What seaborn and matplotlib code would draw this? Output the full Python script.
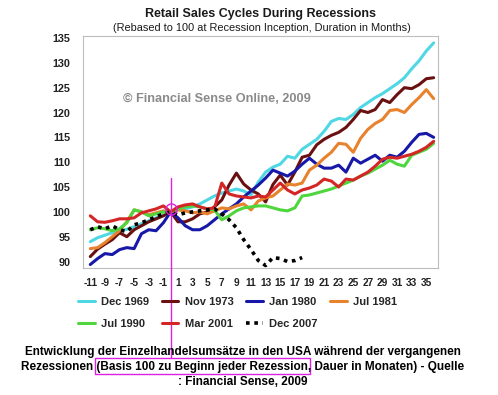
import numpy as np
import pandas as pd
import matplotlib
matplotlib.use('Agg')
import matplotlib.pyplot as plt
import seaborn as sns
from matplotlib.patches import Rectangle

## Data (months from recession start, index = 100 at month 0)
months = list(range(-11, 37))
months_2007 = list(range(-11, 19))

dec1969 = [94, 94.8, 95.3, 95.8, 96.2, 96.5, 97, 97.6, 98.2, 98.8, 99.3, 100,
           100.5, 100.6, 101, 101.6, 102.4, 103.2, 103.8, 104.2, 104.6, 104.2, 103.4, 106,
           108, 109, 109.6, 111.2, 110.8, 112.6, 113.6, 114.6, 116.2, 118.2, 118.8, 118.6,
           119.6, 121, 122, 123, 123.8, 124.8, 125.8, 127, 128.8, 130.4, 132.4, 134]
nov1973 = [91, 92.5, 93.5, 94.4, 95.8, 95, 96.4, 97.2, 98, 98.6, 99.2, 100,
           98, 98, 98.6, 99.6, 100, 101, 102.4, 105.4, 107.8, 105.6, 104.4, 103.6,
           102, 105.5, 107.4, 105.4, 108, 111, 111.4, 113.5, 114.6, 115.4, 116, 117,
           118.6, 120.4, 120, 120.6, 122.6, 122, 123.6, 125, 124.8, 125.6, 126.8, 127]
jan1980 = [89.4, 90.6, 91.6, 91.4, 92.4, 92.8, 92.6, 95.6, 96.4, 96.2, 97.8, 100,
           98.8, 97.2, 96.4, 96.4, 97.2, 98.4, 99.6, 100.6, 101.6, 103, 104.2, 105.4,
           106.8, 108.4, 107.8, 107.2, 108.2, 109.6, 110.8, 109.6, 108.8, 108.8, 109.4, 108,
           110.8, 109.8, 110.6, 111.4, 110.2, 111.4, 111, 112.2, 114, 115.6, 115.8, 115]
jul1981 = [92.6, 92.8, 93.8, 95, 96.2, 98, 100.4, 100, 99.4, 99.8, 100.2, 100,
           100.4, 100.2, 99.8, 100, 99.6, 100.2, 100.8, 100.6, 101.2, 101.6, 100.4, 102.2,
           102.8, 103.2, 104.4, 105.6, 105.4, 105.8, 108.4, 109.4, 110.8, 112, 113.8, 113.6,
           112, 114.8, 116.6, 117.8, 118.6, 120.4, 120.6, 120, 121.6, 123, 124.6, 122.8]
jul1990 = [96.4, 96.8, 96.6, 96.2, 96.6, 97.8, 100.4, 100, 99.2, 99.6, 100, 100,
           100.6, 101, 101.2, 101, 100.6, 100.4, 98.4, 99.2, 100.2, 100.8, 101, 101.2,
           101.2, 100.8, 100.4, 100.2, 100.8, 103.2, 103.4, 103.8, 104.2, 104.6, 105.2, 105.8,
           106.4, 107.2, 107.8, 108.6, 109.4, 110.4, 109.6, 109.2, 111.4, 112, 112.6, 113.8]
mar2001 = [99.2, 98, 97.9, 98.2, 98.6, 98.6, 98.8, 99.8, 100.2, 100.6, 101.2, 100,
           101, 101.4, 101.6, 101, 100.6, 100.8, 105.8, 103.6, 103.2, 103, 102.8, 103.2,
           103, 104.4, 105.8, 104.4, 103.6, 104.4, 104.8, 105.4, 106.6, 106.2, 105, 106.6,
           106.4, 107.2, 108, 109.2, 110.6, 111, 110.8, 111.2, 111.6, 112.2, 113, 114.2]
dec2007 = [96.4, 97, 96.6, 97.2, 96.4, 96, 97.4, 97.8, 98.4, 99, 99.6, 100,
           99.4, 99.8, 100, 100.2, 100.4, 100.6, 99.6, 98.4, 96.8, 94.4, 92.4, 90.2,
           89.2, 90.8, 90.6, 90, 90.2, 90.8]

series_names = ['Dec 1969', 'Nov 1973', 'Jan 1980', 'Jul 1981', 'Jul 1990', 'Mar 2001', 'Dec 2007']
series_vals = [dec1969, nov1973, jan1980, jul1981, jul1990, mar2001, dec2007]
colors = ['#4fd8e4', '#6a1010', '#1818a8', '#e8822c', '#4ed63c', '#d42626', '#000000']

x_ticks = list(range(-11, 36, 2))
y_ticks = list(range(90, 136, 5))

frames = []
for name, vals in zip(series_names, series_vals):
    xs = months_2007 if name == 'Dec 2007' else months
    frames.append(pd.DataFrame({'month': xs, 'value': vals, 'series': name}))
df = pd.concat(frames, ignore_index=True)

sns.set_theme(style='white')
plt.rcParams['font.family'] = ['Liberation Sans', 'DejaVu Sans']

W, H = 498, 395
fig = plt.figure(figsize=(W / 100, H / 100), dpi=100)
ax = fig.add_axes([83 / W, 1 - 268 / H, (438 - 83) / W, (268 - 36) / H])

for name, col in zip(series_names, colors):
    sub = df[df['series'] == name]
    if name == 'Dec 2007':
        sns.lineplot(data=sub, x='month', y='value', color=col, lw=2.6,
                     linestyle=(0, (1, 1.3)), ax=ax, label=name)
    else:
        sns.lineplot(data=sub, x='month', y='value', color=col, lw=2.2, ax=ax, label=name)

ax.set_xlim(-12, 36.6)
ax.set_ylim(88.7, 135.4)
ax.set_xticks(x_ticks)
ax.set_xticklabels([str(t) for t in x_ticks], fontsize=7.3, fontweight='bold')
ax.set_yticks(y_ticks)
ax.set_yticklabels([str(t) for t in y_ticks], fontsize=7.8, fontweight='bold')
ax.tick_params(axis='both', length=0, colors='#222222')
ax.tick_params(axis='x', pad=7)
ax.tick_params(axis='y', pad=9)
ax.set_xlabel('')
ax.set_ylabel('')
for s in ax.spines.values():
    s.set_color('#bdbdbd')
    s.set_linewidth(0.8)

# magenta marker line and circle at recession start
ax.axvline(0, ymin=-0.385, ymax=0.39, color='#e020e0', lw=1.0, clip_on=False, zorder=5)
ax.plot([0], [100.6], marker='o', ms=8, mfc='none', mec='#e020e0', mew=1.0, zorder=6)

# legend, row-major order in 4 columns
handles, labels = ax.get_legend_handles_labels()
ax.get_legend().remove()
order = [0, 4, 1, 5, 2, 6, 3]
fig.legend([handles[i] for i in order], [labels[i] for i in order], ncol=4,
           loc='upper left', bbox_to_anchor=(78 / W, 1 - 297 / H), frameon=False,
           prop={'size': 8, 'weight': 'bold'}, handlelength=1.5, handletextpad=0.6,
           columnspacing=1.1, labelspacing=1.1, borderpad=0, borderaxespad=0)

# titles and watermark
fig.text(260 / W, 1 - 14 / H, 'Retail Sales Cycles During Recessions', ha='center', va='center',
         fontsize=9.0, fontweight='bold', color='#1a1a1a')
fig.text(262 / W, 1 - 28 / H, '(Rebased to 100 at Recession Inception, Duration in Months)',
         ha='center', va='center', fontsize=7.9, color='#1a1a1a')
fig.text(123 / W, 1 - 99 / H, '\u00a9 Financial Sense Online, 2009', ha='left', va='center',
         fontsize=9.2, fontweight='bold', color='#8a8a8a')

# caption below the chart
cap = ['Entwicklung der Einzelhandelsumsätze in den USA während der vergangenen',
       'Rezessionen (Basis 100 zu Beginn jeder Rezession, Dauer in Monaten) - Quelle',
       ': Financial Sense, 2009']
for i, line in enumerate(cap):
    fig.text(243 / W, 1 - (352 + 15 * i) / H, line, ha='center', va='center',
             fontsize=8.5, fontweight='bold', color='black')

fig.patches.append(Rectangle((95 / W, 1 - 374 / H), (310 - 95) / W, 16 / H, transform=fig.transFigure,
                             fill=False, edgecolor='#e020e0', lw=1.0))

fig.savefig('out.png', dpi=100, facecolor='white')
